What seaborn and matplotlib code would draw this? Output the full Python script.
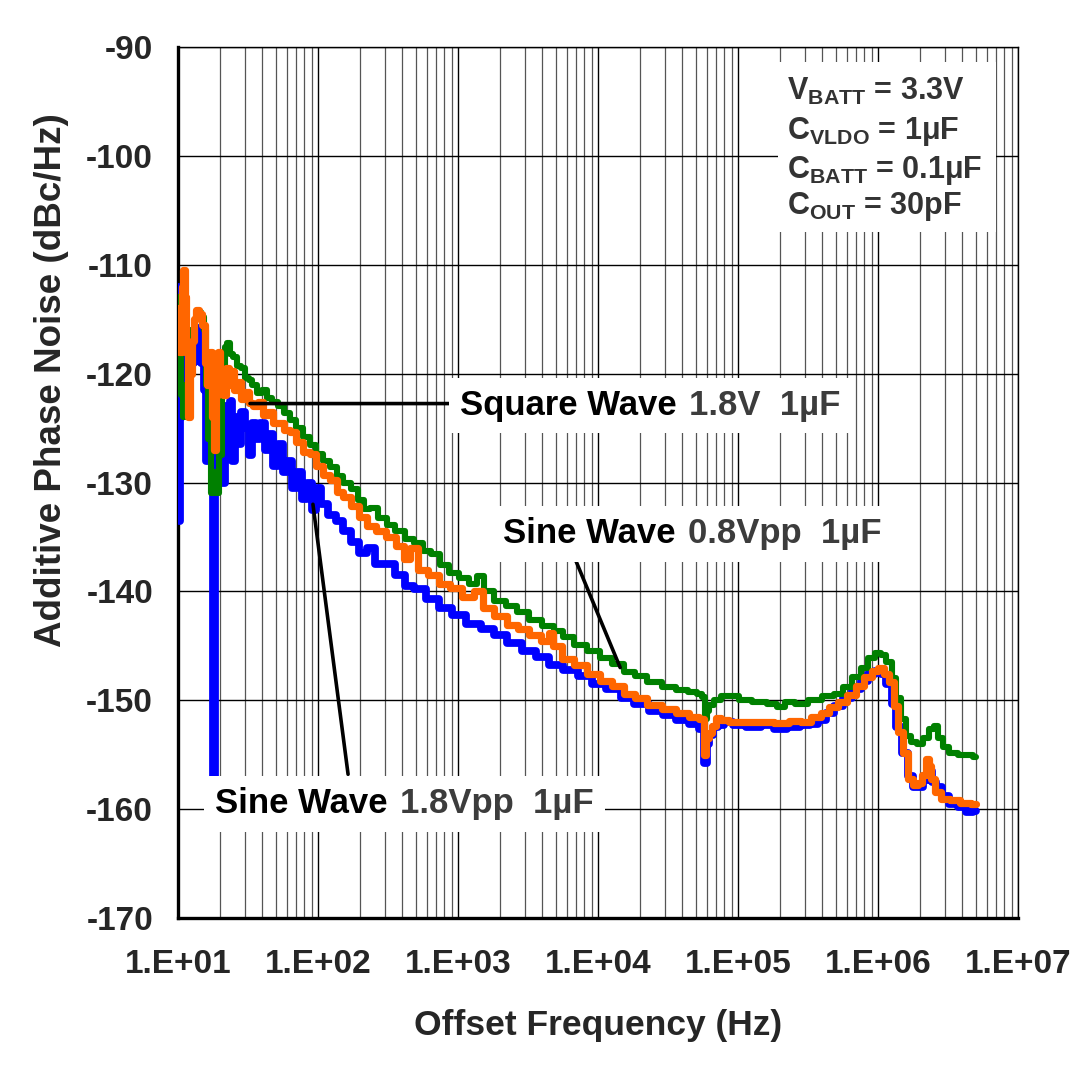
import matplotlib
matplotlib.use("Agg")
import matplotlib.pyplot as plt
import seaborn as sns
from matplotlib.offsetbox import TextArea, HPacker, AnnotationBbox
from matplotlib.patches import Rectangle
from matplotlib.ticker import LogLocator, NullFormatter, FixedLocator, FixedFormatter

# ---------------- data ----------------
# Square Wave 1.8V 1uF (green)
sq_freq = [10.0, 10.3, 10.6, 11.0, 11.5, 12.0, 12.8, 13.6, 14.3, 15.0, 15.6, 16.2, 16.8, 17.5, 18.2,
           19.0, 20.0, 21.0, 22.0, 23.0, 24.0, 25.5, 27.0, 29.0, 31.0, 33.0, 35.0, 38.0, 41.0, 45.0,
           49.0, 54.0, 60.0, 66.0, 74.0, 82.0, 92.0, 103.0, 115.0, 130.0, 143.0, 160.0, 184.0, 205.0,
           224.0, 250.0, 290.0, 330.0, 380.0, 450.0, 520.0, 600.0, 680.0, 800.0, 920.0, 1100.0,
           1300.0, 1450.0, 1600.0, 2000.0, 2400.0, 2900.0, 3500.0, 4500.0, 5200.0, 6000.0, 7500.0,
           9200.0, 11500.0, 13700.0, 17000.0, 20000.0, 25000.0, 32000.0, 40000.0, 48000.0, 54000.0,
           57000.0, 59000.0, 61000.0, 64000.0, 70000.0, 80000.0, 92000.0, 110000.0, 140000.0,
           180000.0, 200000.0, 230000.0, 280000.0, 350000.0, 450000.0, 520000.0, 600000.0, 700000.0,
           800000.0, 900000.0, 1000000.0, 1100000.0, 1200000.0, 1300000.0, 1400000.0, 1500000.0,
           1650000.0, 1800000.0, 2000000.0, 2200000.0, 2400000.0, 2600000.0, 2800000.0, 3000000.0,
           3400000.0, 4000000.0, 4500000.0, 5000000.0]
sq_noise = [-113.0, -118.0, -122.0, -124.0, -121.0, -117.0, -116.0, -115.0, -114.3, -114.8, -116.0,
            -121.0, -126.0, -131.0, -129.0, -131.0, -127.5, -120.0, -117.6, -117.2, -118.2, -118.5,
            -119.3, -119.5, -120.4, -120.6, -121.0, -121.8, -121.5, -122.2, -122.6, -123.0, -123.6,
            -124.3, -125.0, -125.8, -126.6, -127.4, -128.0, -128.6, -129.4, -130.0, -130.6, -131.6,
            -132.4, -132.3, -133.3, -133.9, -134.5, -135.2, -135.6, -136.3, -136.6, -137.6, -138.3,
            -138.8, -139.3, -138.6, -140.0, -140.9, -141.3, -141.9, -142.6, -143.2, -143.6, -144.2,
            -144.9, -145.5, -146.1, -146.7, -147.4, -147.8, -148.3, -148.8, -149.1, -149.2, -149.4,
            -149.7, -151.7, -151.0, -150.4, -150.0, -149.6, -149.6, -150.0, -150.2, -150.3, -150.6,
            -150.2, -150.3, -150.0, -149.6, -149.4, -148.8, -147.9, -147.0, -146.1, -145.7, -145.8,
            -146.5, -148.0, -149.8, -151.7, -153.3, -153.8, -154.0, -153.5, -152.6, -152.4, -153.5,
            -154.3, -154.8, -155.0, -155.0, -155.2]

# Sine Wave 0.8Vpp 1uF (orange)
s08_freq = [10.0, 10.4, 10.8, 11.0, 11.3, 11.6, 12.0, 12.4, 12.8, 13.3, 13.8, 14.5, 15.2, 15.8, 16.5,
            17.2, 17.8, 18.4, 19.0, 19.6, 20.5, 21.5, 22.5, 23.5, 24.5, 26.0, 27.5, 29.0, 31.0, 33.0,
            36.0, 39.0, 42.0, 46.0, 50.0, 55.0, 60.0, 66.0, 74.0, 82.0, 92.0, 103.0, 115.0, 130.0,
            143.0, 160.0, 184.0, 210.0, 240.0, 280.0, 330.0, 390.0, 430.0, 480.0, 560.0, 660.0, 800.0,
            950.0, 1200.0, 1400.0, 1600.0, 2000.0, 2500.0, 2900.0, 3500.0, 4300.0, 4600.0, 5000.0,
            6000.0, 7500.0, 9200.0, 11500.0, 13700.0, 17000.0, 20000.0, 25000.0, 32000.0, 40000.0,
            50000.0, 56000.0, 58500.0, 60500.0, 63000.0, 67000.0, 72000.0, 80000.0, 92000.0, 120000.0,
            160000.0, 200000.0, 260000.0, 300000.0, 360000.0, 420000.0, 480000.0, 560000.0, 650000.0,
            750000.0, 850000.0, 950000.0, 1050000.0, 1150000.0, 1250000.0, 1350000.0, 1450000.0,
            1550000.0, 1700000.0, 1850000.0, 2000000.0, 2150000.0, 2250000.0, 2350000.0, 2450000.0,
            2650000.0, 3000000.0, 3500000.0, 4200000.0, 5000000.0]
s08_noise = [-114.0, -118.0, -112.0, -110.5, -113.0, -118.0, -124.0, -120.0, -117.0, -115.0, -114.2,
             -114.5, -115.5, -119.0, -121.0, -118.0, -124.0, -127.0, -122.0, -118.0, -120.5, -122.0,
             -119.5, -121.0, -119.8, -121.5, -120.8, -122.3, -121.7, -122.7, -123.0, -122.6, -123.8,
             -123.5, -124.5, -124.5, -125.2, -125.4, -126.3, -127.2, -127.4, -128.5, -129.3, -129.8,
             -130.9, -131.3, -132.2, -133.2, -134.0, -134.5, -135.0, -135.8, -137.0, -136.0, -138.0,
             -138.5, -139.3, -139.7, -140.5, -140.0, -141.5, -142.3, -143.1, -143.5, -144.0, -144.6,
             -143.8, -145.0, -146.2, -146.8, -147.6, -148.2, -148.7, -149.4, -149.8, -150.4, -150.8,
             -151.2, -151.5, -151.7, -155.0, -153.5, -153.0, -152.4, -151.6, -151.8, -152.0, -152.0,
             -152.0, -152.1, -151.9, -152.0, -151.5, -151.2, -150.6, -150.2, -149.5, -148.7, -147.9,
             -147.3, -147.0, -147.6, -148.3, -150.5, -152.9, -154.8, -157.2, -157.8, -157.6, -156.9,
             -155.4, -156.0, -157.2, -158.4, -159.1, -159.2, -159.4, -159.5]

# Sine Wave 1.8Vpp 1uF (blue)
s18_freq = [10.0, 10.2, 10.5, 10.8, 11.5, 12.0, 12.6, 13.5, 14.2, 15.0, 15.6, 16.2, 16.8, 17.5, 18.0,
            18.6, 19.2, 20.0, 21.0, 22.0, 23.0, 24.0, 25.0, 26.0, 27.5, 29.0, 31.0, 33.0, 35.0, 37.0,
            40.0, 43.0, 46.0, 50.0, 54.0, 58.0, 63.0, 68.0, 74.0, 80.0, 87.0, 93.0, 100.0, 110.0,
            125.0, 143.0, 160.0, 184.0, 210.0, 240.0, 270.0, 330.0, 380.0, 450.0, 520.0, 660.0, 800.0,
            1000.0, 1300.0, 1600.0, 2000.0, 2500.0, 3200.0, 4000.0, 5000.0, 6300.0, 8000.0, 10000.0,
            13000.0, 16000.0, 20000.0, 26000.0, 32000.0, 40000.0, 50000.0, 56000.0, 59000.0, 61000.0,
            64000.0, 68000.0, 75000.0, 85000.0, 100000.0, 130000.0, 160000.0, 200000.0, 250000.0,
            300000.0, 350000.0, 400000.0, 450000.0, 520000.0, 600000.0, 700000.0, 800000.0, 900000.0,
            1000000.0, 1100000.0, 1200000.0, 1300000.0, 1400000.0, 1550000.0, 1700000.0, 1850000.0,
            2000000.0, 2200000.0, 2350000.0, 2500000.0, 2700000.0, 3000000.0, 3400000.0, 4000000.0,
            4500000.0, 5000000.0]
s18_noise = [-112.0, -133.5, -124.0, -119.0, -118.5, -120.0, -119.0, -116.0, -115.8, -119.0, -121.5,
             -128.0, -122.0, -124.0, -157.0, -128.0, -122.5, -126.0, -130.0, -123.0, -127.0, -122.5,
             -128.0, -124.0, -126.5, -123.5, -125.0, -127.5, -124.5, -126.0, -124.5, -127.0, -125.5,
             -128.5, -126.5, -129.0, -128.0, -130.5, -129.0, -131.5, -130.0, -132.5, -130.5, -132.0,
             -133.0, -133.5, -134.5, -135.5, -136.5, -136.0, -137.5, -137.5, -138.5, -139.5, -139.8,
             -140.7, -141.5, -142.2, -143.0, -143.5, -144.0, -144.7, -145.5, -146.0, -146.8, -147.2,
             -147.8, -148.5, -149.0, -149.8, -150.3, -151.0, -151.4, -151.8, -152.2, -152.6, -155.8,
             -154.0, -153.2, -152.5, -152.3, -152.0, -152.3, -152.5, -152.3, -152.6, -152.5, -152.3,
             -152.2, -151.8, -151.2, -150.5, -149.8, -149.0, -148.2, -147.6, -147.3, -147.6, -148.5,
             -150.3, -152.5, -154.8, -157.0, -158.0, -158.0, -157.3, -156.5, -157.5, -158.0, -158.8,
             -159.5, -159.8, -160.3, -160.2]

decade_ticks = [1e1, 1e2, 1e3, 1e4, 1e5, 1e6, 1e7]
xtick_labels = ["1.E+01", "1.E+02", "1.E+03", "1.E+04", "1.E+05", "1.E+06", "1.E+07"]
ytick_values = [-170, -160, -150, -140, -130, -120, -110, -100, -90]
ytick_labels = ["-170", "-160", "-150", "-140", "-130", "-120", "-110", "-100", "-90"]

# ---------------- style ----------------
sns.set_style("white")
plt.rcParams["font.family"] = ["Liberation Sans", "DejaVu Sans"]
plt.rcParams["font.weight"] = "bold"
plt.rcParams["mathtext.fontset"] = "custom"
plt.rcParams["mathtext.rm"] = "Liberation Sans:bold"
plt.rcParams["mathtext.bf"] = "Liberation Sans:bold"
plt.rcParams["mathtext.it"] = "Liberation Sans:bold"

W, H = 1088, 1080
fig = plt.figure(figsize=(W / 100, H / 100), dpi=100)
L, R, T, B = 178, 1018, 47, 918
ax = fig.add_axes([L / W, 1 - B / H, (R - L) / W, (B - T) / H])

BLUE, GREEN, ORANGE = "#0000FF", "#008000", "#FF6600"
sns.lineplot(x=s18_freq, y=s18_noise, ax=ax, color=BLUE, linewidth=5.6, drawstyle="steps-mid",
             sort=False, estimator=None, zorder=3)
sns.lineplot(x=sq_freq, y=sq_noise, ax=ax, color=GREEN, linewidth=4.4, drawstyle="steps-mid",
             sort=False, estimator=None, zorder=3.1)
sns.lineplot(x=s08_freq, y=s08_noise, ax=ax, color=ORANGE, linewidth=5.2, drawstyle="steps-mid",
             sort=False, estimator=None, zorder=3.2)

ax.set_xscale("log")
ax.set_xlim(decade_ticks[0], decade_ticks[-1])
ax.set_ylim(ytick_values[0], ytick_values[-1])

ax.xaxis.set_major_locator(FixedLocator(decade_ticks))
ax.xaxis.set_major_formatter(FixedFormatter(xtick_labels))
ax.xaxis.set_minor_locator(LogLocator(base=10, subs=range(2, 10)))
ax.xaxis.set_minor_formatter(NullFormatter())
ax.yaxis.set_major_locator(FixedLocator(ytick_values))
ax.yaxis.set_major_formatter(FixedFormatter(ytick_labels))

ax.grid(which="major", axis="both", color="black", linewidth=1.0, zorder=1)
ax.grid(which="minor", axis="x", color="#555555", linewidth=0.9, zorder=1)
ax.set_axisbelow(True)

ax.tick_params(axis="both", which="both", length=0)
ax.tick_params(axis="x", which="major", labelsize=24, pad=22)
ax.tick_params(axis="y", which="major", labelsize=24, pad=18)
for lab in ax.get_xticklabels() + ax.get_yticklabels():
    lab.set_fontweight("bold")

for side in ["left", "bottom"]:
    ax.spines[side].set_linewidth(2.4)
    ax.spines[side].set_color("black")
for side in ["top", "right"]:
    ax.spines[side].set_linewidth(1.0)
    ax.spines[side].set_color("black")

ax.set_xlabel("Offset Frequency (Hz)", fontsize=25.5, fontweight="bold")
ax.set_ylabel("Additive Phase Noise (dBc/Hz)", fontsize=26.5, fontweight="bold")
ax.xaxis.set_label_coords(0.5, -0.105)
ax.yaxis.set_label_coords(-0.13, 0.618)

# ---------------- leader lines ----------------
lead = dict(arrowstyle="-", color="black", lw=2.6, shrinkA=0, shrinkB=0)
ax.annotate("", xy=(32.7, -122.75), xytext=(900, -122.75), arrowprops=lead, zorder=5)
ax.annotate("", xy=(1.44e4, -147.0), xytext=(6.85e3, -137.0), arrowprops=lead, zorder=5)
ax.annotate("", xy=(92, -132.0), xytext=(164, -156.8), arrowprops=lead, zorder=5)

# ---------------- series labels ----------------
DARK = "#3c3c3c"


def label_box(x, y, black_part, gray_part):
    a = TextArea(black_part, textprops=dict(color="black", fontsize=25, fontweight="bold"))
    b = TextArea(gray_part, textprops=dict(color=DARK, fontsize=25, fontweight="bold"))
    pack = HPacker(children=[a, b], align="baseline", pad=0, sep=9)
    ab = AnnotationBbox(pack, (x, y), xycoords="axes fraction", box_alignment=(0, 0.5),
                        frameon=True, pad=0.5, fontsize=16,
                        bboxprops=dict(facecolor="white", edgecolor="none"), zorder=6)
    ax.add_artist(ab)


label_box(0.336, 0.588, "Square Wave", "1.8V  1\u00b5F")
label_box(0.387, 0.441, "Sine Wave", "0.8Vpp  1\u00b5F")
label_box(0.044, 0.131, "Sine Wave", "1.8Vpp  1\u00b5F")

# ---------------- conditions box ----------------
ax.add_patch(Rectangle((0.714, 0.788), 0.26, 0.195, transform=ax.transAxes,
                       facecolor="white", edgecolor="none", zorder=6))
cond_lines = [r"V$_{\mathbf{BATT}}$ = 3.3V",
              r"C$_{\mathbf{VLDO}}$ = 1$\mathbf{\mu}$F",
              r"C$_{\mathbf{BATT}}$ = 0.1$\mathbf{\mu}$F",
              r"C$_{\mathbf{OUT}}$ = 30pF"]
baselines = [100, 139, 178, 214]
for txt, yb in zip(cond_lines, baselines):
    ax.text((787 - L) / (R - L), (B - yb) / (B - T), txt, transform=ax.transAxes,
            fontsize=22, fontweight="bold", color="#333333", ha="left", va="baseline", zorder=7)

fig.savefig("out.png", dpi=100, facecolor="white")
